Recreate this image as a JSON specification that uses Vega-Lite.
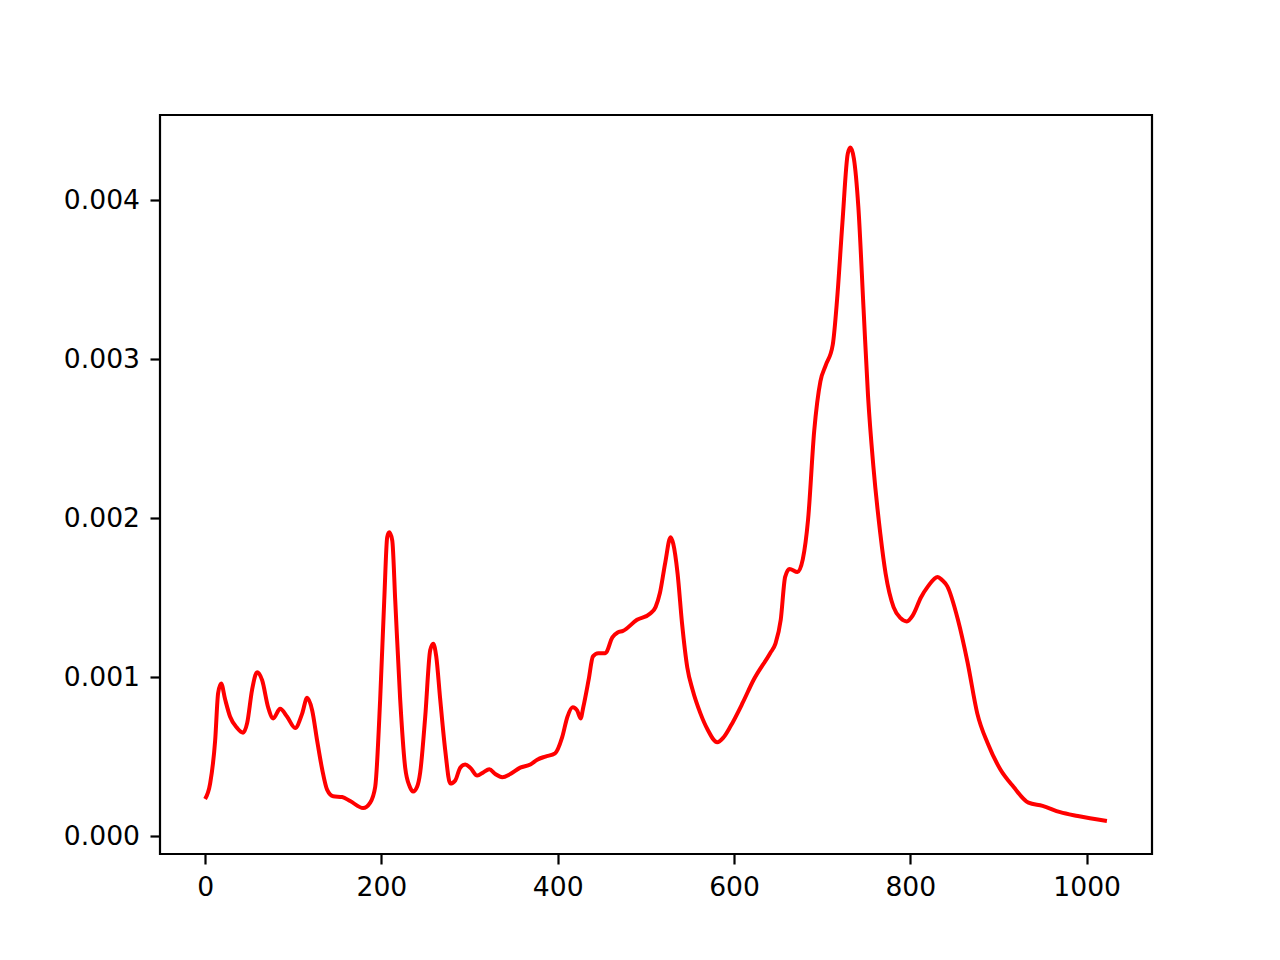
{
  "$schema": "https://vega.github.io/schema/vega-lite/v6.json",
  "width": 992,
  "height": 739,
  "autosize": {"type": "none"},
  "padding": {"left": 160, "top": 115, "right": 128, "bottom": 106},
  "background": "white",
  "config": {
    "view": {"stroke": "black", "strokeWidth": 2.2},
    "axis": {
      "domain": false,
      "grid": false,
      "ticks": true,
      "tickColor": "black",
      "tickWidth": 2.2,
      "tickSize": 10,
      "labelFont": "DejaVu Sans",
      "labelFontSize": 26.6,
      "labelColor": "black",
      "labelPadding": 10.5,
      "title": null
    }
  },
  "data": {
    "values": [
      {"x": 0, "y": 0.000233},
      {"x": 5.7, "y": 0.00033},
      {"x": 11.4, "y": 0.0006},
      {"x": 14.8, "y": 0.0009},
      {"x": 18.2, "y": 0.00096},
      {"x": 22.7, "y": 0.00086},
      {"x": 28.4, "y": 0.00075},
      {"x": 36.3, "y": 0.00068},
      {"x": 43.1, "y": 0.00065},
      {"x": 47.7, "y": 0.00071},
      {"x": 53.3, "y": 0.00092},
      {"x": 59, "y": 0.00103},
      {"x": 64.7, "y": 0.00098},
      {"x": 71.5, "y": 0.00081},
      {"x": 77.2, "y": 0.00074},
      {"x": 85.1, "y": 0.0008},
      {"x": 93.1, "y": 0.00075},
      {"x": 102.2, "y": 0.00068},
      {"x": 110.1, "y": 0.00077},
      {"x": 115.8, "y": 0.00087},
      {"x": 121.5, "y": 0.00079},
      {"x": 127.1, "y": 0.0006},
      {"x": 132.8, "y": 0.00042},
      {"x": 138.5, "y": 0.00029},
      {"x": 145.3, "y": 0.00025},
      {"x": 155.5, "y": 0.000245},
      {"x": 164.6, "y": 0.00022},
      {"x": 179.3, "y": 0.000176},
      {"x": 187.3, "y": 0.00021},
      {"x": 193, "y": 0.00031},
      {"x": 198.6, "y": 0.00086},
      {"x": 203.2, "y": 0.00148},
      {"x": 206.6, "y": 0.00188},
      {"x": 208.9, "y": 0.00191},
      {"x": 212.3, "y": 0.00186},
      {"x": 215.7, "y": 0.00148},
      {"x": 221.3, "y": 0.00086},
      {"x": 227, "y": 0.00043},
      {"x": 232.2, "y": 0.00031},
      {"x": 236, "y": 0.00028},
      {"x": 240.5, "y": 0.00031},
      {"x": 244, "y": 0.0004},
      {"x": 249.7, "y": 0.00075},
      {"x": 255.4, "y": 0.00117},
      {"x": 258.8, "y": 0.00121},
      {"x": 262.2, "y": 0.00113},
      {"x": 266.7, "y": 0.00086},
      {"x": 272.4, "y": 0.00054},
      {"x": 278.1, "y": 0.00033},
      {"x": 283.8, "y": 0.00035},
      {"x": 289.4, "y": 0.00043},
      {"x": 295.1, "y": 0.00045},
      {"x": 300.8, "y": 0.00043},
      {"x": 308.7, "y": 0.00038},
      {"x": 315.5, "y": 0.0004},
      {"x": 322.4, "y": 0.00042},
      {"x": 329.2, "y": 0.00039},
      {"x": 337.1, "y": 0.00037},
      {"x": 346.2, "y": 0.00039},
      {"x": 357.5, "y": 0.00043},
      {"x": 368.9, "y": 0.00045},
      {"x": 376.8, "y": 0.00048},
      {"x": 386, "y": 0.0005},
      {"x": 397, "y": 0.00052},
      {"x": 405, "y": 0.00062},
      {"x": 411, "y": 0.00075},
      {"x": 417, "y": 0.00081},
      {"x": 422, "y": 0.00079},
      {"x": 426, "y": 0.00074},
      {"x": 429, "y": 0.00081},
      {"x": 435, "y": 0.00098},
      {"x": 440, "y": 0.00113},
      {"x": 446, "y": 0.00115},
      {"x": 454, "y": 0.00115},
      {"x": 462, "y": 0.00125},
      {"x": 468, "y": 0.00128},
      {"x": 474, "y": 0.00129},
      {"x": 490, "y": 0.00136},
      {"x": 505, "y": 0.0014},
      {"x": 511, "y": 0.00144},
      {"x": 516, "y": 0.00153},
      {"x": 522, "y": 0.00172},
      {"x": 528, "y": 0.00188},
      {"x": 531, "y": 0.00184},
      {"x": 536, "y": 0.00165},
      {"x": 541, "y": 0.00134},
      {"x": 547, "y": 0.00106},
      {"x": 553, "y": 0.00092},
      {"x": 562, "y": 0.00077},
      {"x": 570, "y": 0.00067},
      {"x": 581, "y": 0.00059},
      {"x": 588, "y": 0.00062},
      {"x": 596, "y": 0.00069},
      {"x": 610, "y": 0.00084},
      {"x": 622, "y": 0.00098},
      {"x": 641, "y": 0.00115},
      {"x": 647, "y": 0.00121},
      {"x": 653, "y": 0.00136},
      {"x": 658, "y": 0.00163},
      {"x": 663, "y": 0.00168},
      {"x": 672, "y": 0.00166},
      {"x": 678, "y": 0.00174},
      {"x": 684, "y": 0.00199},
      {"x": 691, "y": 0.00255},
      {"x": 698, "y": 0.00286},
      {"x": 704, "y": 0.00296},
      {"x": 712, "y": 0.00309},
      {"x": 717, "y": 0.00338},
      {"x": 723, "y": 0.00386},
      {"x": 729, "y": 0.00429},
      {"x": 732, "y": 0.00433},
      {"x": 736, "y": 0.00426},
      {"x": 741, "y": 0.00396},
      {"x": 747, "y": 0.00331},
      {"x": 752, "y": 0.00277},
      {"x": 758, "y": 0.00233},
      {"x": 766, "y": 0.0019},
      {"x": 772, "y": 0.00165},
      {"x": 781, "y": 0.00144},
      {"x": 789, "y": 0.00137},
      {"x": 796, "y": 0.00135},
      {"x": 803, "y": 0.00139},
      {"x": 812, "y": 0.0015},
      {"x": 820, "y": 0.00157},
      {"x": 831, "y": 0.00163},
      {"x": 836, "y": 0.00161},
      {"x": 842, "y": 0.00157},
      {"x": 854, "y": 0.00136},
      {"x": 865, "y": 0.00109},
      {"x": 876, "y": 0.00077},
      {"x": 888, "y": 0.00058},
      {"x": 902, "y": 0.00042},
      {"x": 917, "y": 0.00031},
      {"x": 934, "y": 0.00021},
      {"x": 950, "y": 0.00019},
      {"x": 970, "y": 0.00015},
      {"x": 990, "y": 0.000126},
      {"x": 1023, "y": 0.000094}
    ]
  },
  "mark": {"type": "line", "color": "#ff0000", "strokeWidth": 4, "interpolate": "monotone", "strokeJoin": "round", "strokeCap": "butt"},
  "encoding": {
    "x": {
      "field": "x",
      "type": "quantitative",
      "scale": {"domain": [-51.15, 1074.15], "nice": false, "zero": false},
      "axis": {"values": [0, 200, 400, 600, 800, 1000], "format": "d"}
    },
    "y": {
      "field": "y",
      "type": "quantitative",
      "scale": {"domain": [-0.000113, 0.004535], "nice": false, "zero": false},
      "axis": {"values": [0, 0.001, 0.002, 0.003, 0.004], "format": ".3f"}
    }
  }
}
